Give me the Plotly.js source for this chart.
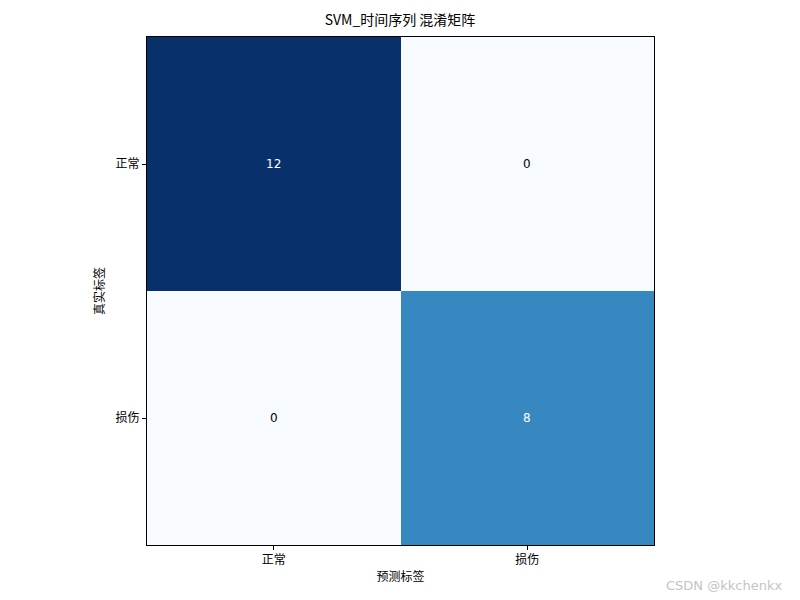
<!DOCTYPE html>
<html>
<head>
<meta charset="utf-8">
<script src="https://cdn.plot.ly/plotly-3.0.1.min.js"></script>
<style>
  html, body { margin: 0; padding: 0; background: #fff; }
  #plot { width: 800px; height: 600px; }
</style>
</head>
<body>
<div id="plot"></div>
<script>
const labels = ['正常', '损伤'];
const counts = [
  [12, 0],
  [0, 8]
];
const titleText = 'SVM_时间序列 混淆矩阵';
const xTitle = '预测标签';
const yTitle = '真实标签';
const watermark = 'CSDN @kkchenkx';

// matplotlib Blues
const blues = [
  [0, '#f7fbff'], [0.125, '#deebf7'], [0.25, '#c6dbef'], [0.375, '#9ecae1'],
  [0.5, '#6baed6'], [0.625, '#4292c6'], [0.75, '#2171b5'], [0.875, '#08519c'], [1, '#08306b']
];

const zMax = Math.max(...counts.flat());
const font = '"Noto Sans CJK SC", "DejaVu Sans", sans-serif';

// 单元格数值标注
const annotations = [];
counts.forEach((row, i) => {
  row.forEach((v, j) => {
    annotations.push({
      x: labels[j], y: labels[i], xref: 'x', yref: 'y', text: String(v),
      showarrow: false,
      font: { family: '"DejaVu Sans", sans-serif', size: 12, color: v > zMax / 2 ? '#ffffff' : '#000000' }
    });
  });
});
annotations.push({
  x: 1.0, y: 0, xref: 'paper', yref: 'paper', xanchor: 'right', yanchor: 'top',
  xshift: 130, yshift: -31, text: watermark, showarrow: false,
  font: { family: '"DejaVu Sans", sans-serif', size: 13, color: '#c4c4c4' }
});

const trace = {
  type: 'heatmap', x: labels, y: labels, z: counts,
  colorscale: blues, zmin: 0, zmax: zMax, showscale: false, xgap: 0, ygap: 0,
  hoverinfo: 'z'
};

const layout = {
  width: 800, height: 600,
  margin: { l: 147, r: 146, t: 37, b: 55 },
  paper_bgcolor: '#fff', plot_bgcolor: '#fff',
  font: { family: font, size: 12, color: '#000' },
  title: { text: titleText, x: 0.5, xanchor: 'center', y: 0.966, yanchor: 'middle', font: { family: font, size: 14, color: '#000' } },
  xaxis: {
    title: { text: xTitle, font: { family: font, size: 12 }, standoff: 6 },
    ticks: 'outside', ticklen: 4, tickcolor: '#000', showline: true, linecolor: '#000', linewidth: 1,
    mirror: true, showgrid: false, zeroline: false, tickfont: { family: font, size: 12 }
  },
  yaxis: {
    title: { text: yTitle, font: { family: font, size: 12 }, standoff: 8 },
    autorange: 'reversed',
    ticks: 'outside', ticklen: 4, tickcolor: '#000', showline: true, linecolor: '#000', linewidth: 1,
    mirror: true, showgrid: false, zeroline: false, tickfont: { family: font, size: 12 }
  },
  annotations: annotations
};

Plotly.newPlot('plot', [trace], layout, { staticPlot: true });
</script>
</body>
</html>
